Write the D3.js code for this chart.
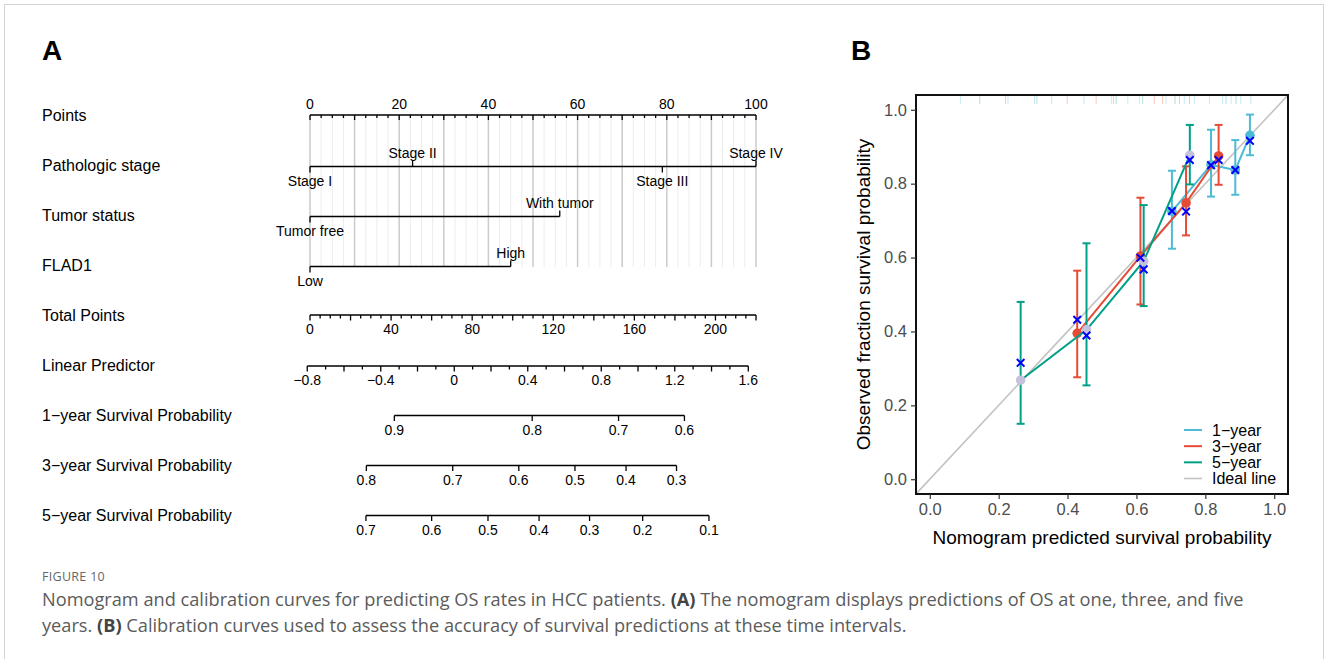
<!DOCTYPE html>
<html>
<head>
<meta charset="utf-8">
<script src="https://cdn.jsdelivr.net/npm/d3@7"></script>
<style>
  html, body { margin: 0; padding: 0; background: #fff; }
  svg { display: block; }
</style>
</head>
<body>
<svg id="chart" width="1328" height="659"></svg>
<script>
// ---------------- DATA ----------------
// Nomogram (panel A)
const variableNames = ["Points", "Pathologic stage", "Tumor status", "FLAD1", "Total Points",
  "Linear Predictor", "1\u2212year Survival Probability", "3\u2212year Survival Probability", "5\u2212year Survival Probability"];
const stageLevels = ["Stage I", "Stage II", "Stage III", "Stage IV"];
const stagePoints = [0, 23, 79, 100];
const tumorLevels = ["Tumor free", "With tumor"];
const tumorPoints = [0, 56];
const fladLevels = ["Low", "High"];
const fladPoints = [0, 45];
const pointsTickLabels = [0, 20, 40, 60, 80, 100];
const totalPointsTickLabels = [0, 40, 80, 120, 160, 200];
const totalPointsMax = 220;
const lpTickLabels = [-0.8, -0.4, 0, 0.4, 0.8, 1.2, 1.6];
const lpAtTotalZero = -0.785, lpAtTotalMax = 1.642;
const surv1Ticks = [0.9, 0.8, 0.7, 0.6];
const surv1TotalPts = [41.6, 109.6, 152.2, 184.7];
const surv3Ticks = [0.8, 0.7, 0.6, 0.5, 0.4, 0.3];
const surv3TotalPts = [27.8, 70.4, 103.0, 130.7, 155.9, 180.8];
const surv5Ticks = [0.7, 0.6, 0.5, 0.4, 0.3, 0.2, 0.1];
const surv5TotalPts = [27.6, 60.0, 87.8, 113.0, 137.9, 164.1, 196.8];

// Calibration (panel B)
const seriesNames = ["1\u2212year", "3\u2212year", "5\u2212year"];
const pred1 = [0.703, 0.8165, 0.887, 0.9295];
const obs1  = [0.725, 0.851, 0.837, 0.931];
const lo1   = [0.624, 0.765, 0.770, 0.877];
const hi1   = [0.835, 0.946, 0.918, 0.987];
const corr1 = [0.726, 0.850, 0.837, 0.916];
const pred3 = [0.428, 0.6116, 0.744, 0.8386];
const obs3  = [0.395, 0.604, 0.748, 0.875];
const lo3   = [0.276, 0.473, 0.660, 0.797];
const hi3   = [0.5645, 0.762, 0.847, 0.959];
const corr3 = [0.4317, 0.5997, 0.7245, 0.864];
const pred5 = [0.2638, 0.455, 0.621, 0.755];
const obs5  = [0.268, 0.4045, 0.590, 0.877];
const lo5   = [0.150, 0.254, 0.4686, 0.798];
const hi5   = [0.480, 0.6386, 0.742, 0.959];
const corr5 = [0.315, 0.389, 0.568, 0.864];
const rug1 = [0.089, 0.227, 0.304, 0.354, 0.448, 0.527, 0.575, 0.609, 0.686, 0.739, 0.768, 0.812, 0.85, 0.875, 0.903, 0.932];
const rug3 = [0.22, 0.399, 0.483, 0.533, 0.652, 0.676, 0.725];
const rug5 = [0.145, 0.311, 0.541, 0.618, 0.712, 0.754, 0.86, 0.889];
const calTicks = [0, 0.2, 0.4, 0.6, 0.8, 1.0];

// ---------------- DRAW ----------------
const svg = d3.select("#chart");
const FONT = "'Liberation Sans', Arial, Helvetica, sans-serif";

// card border
svg.append("rect").attr("x", 4.5).attr("y", 4.5).attr("width", 1319).attr("height", 670)
  .attr("fill", "none").attr("stroke", "#d4d4d4").attr("stroke-width", 1);

// panel letters
svg.append("text").attr("x", 42).attr("y", 60).text("A")
  .attr("font-family", FONT).attr("font-weight", "bold").attr("font-size", 28).attr("fill", "#000");
svg.append("text").attr("x", 851).attr("y", 60).text("B")
  .attr("font-family", FONT).attr("font-weight", "bold").attr("font-size", 28).attr("fill", "#000");

// ---- Panel A: nomogram ----
const gA = svg.append("g");
const rowY = d3.scalePoint().domain(variableNames).range([115, 515]);
const ptsX = d3.scaleLinear().domain([0, 100]).range([310, 756]);
const totX = d3.scaleLinear().domain([0, totalPointsMax]).range([310, 756]);
const lpX = d3.scaleLinear().domain([lpAtTotalZero, lpAtTotalMax]).range(totX.range());

// left labels
gA.selectAll("text.varname").data(variableNames).join("text")
  .attr("class", "varname")
  .attr("x", 42).attr("y", d => rowY(d) + 6)
  .attr("font-family", FONT).attr("font-size", 16).attr("fill", "#000")
  .text(d => d);

// grid lines
const gridTop = rowY("Points"), gridBottom = rowY("FLAD1") + 2;
const minorGrid = d3.range(0, 100.01, 2.5).filter(v => v % 10 !== 0);
const majorGrid = d3.range(0, 100.01, 10);
gA.selectAll("line.gminor").data(minorGrid).join("line")
  .attr("x1", d => ptsX(d)).attr("x2", d => ptsX(d))
  .attr("y1", gridTop).attr("y2", gridBottom)
  .attr("stroke", "#ececec").attr("stroke-width", 1);
gA.selectAll("line.gmajor").data(majorGrid).join("line")
  .attr("x1", d => ptsX(d)).attr("x2", d => ptsX(d))
  .attr("y1", gridTop).attr("y2", gridBottom)
  .attr("stroke", "#cbcbcb").attr("stroke-width", 1.5);

function hAxisLine(g, x1, x2, y) {
  g.append("line").attr("x1", x1).attr("x2", x2).attr("y1", y).attr("y2", y)
    .attr("stroke", "#000").attr("stroke-width", 1.5);
}
function ticks(g, xs, y, len) {
  g.selectAll(null).data(xs).join("line")
    .attr("x1", d => d).attr("x2", d => d).attr("y1", y).attr("y2", y + len)
    .attr("stroke", "#000").attr("stroke-width", 1.3);
}
function labels(g, items, y) {
  g.selectAll(null).data(items).join("text")
    .attr("x", d => d.x).attr("y", y).attr("text-anchor", "middle")
    .attr("font-family", FONT).attr("font-size", 14).attr("fill", "#000")
    .text(d => d.t);
}
const fmtNum = v => (v < 0 ? "\u2212" : "") + Math.abs(v).toString();

// Points axis
{
  const y = rowY("Points");
  hAxisLine(gA, ptsX(0), ptsX(100), y);
  const minor = d3.range(0, 100.01, 2.5).filter(v => v % 10 !== 0);
  ticks(gA, minor.map(ptsX), y, 3);
  ticks(gA, d3.range(0, 100.01, 10).map(ptsX), y, 5);
  labels(gA, pointsTickLabels.map(v => ({x: ptsX(v), t: String(v)})), y - 6);
}

// factor rows
function factorRow(name, levels, pts) {
  const y = rowY(name) + 1.5;
  hAxisLine(gA, ptsX(d3.min(pts)), ptsX(d3.max(pts)), y);
  levels.forEach((lv, i) => {
    const up = i % 2 === 1;
    const x = ptsX(pts[i]);
    gA.append("line").attr("x1", x).attr("x2", x).attr("y1", y).attr("y2", up ? y - 6 : y + 6)
      .attr("stroke", "#000").attr("stroke-width", 1.3);
    gA.append("text").attr("x", x).attr("y", up ? y - 9 : y + 19)
      .attr("text-anchor", "middle").attr("font-family", FONT).attr("font-size", 14)
      .attr("fill", "#000").text(lv);
  });
}
factorRow("Pathologic stage", stageLevels, stagePoints);
factorRow("Tumor status", tumorLevels, tumorPoints);
factorRow("FLAD1", fladLevels, fladPoints);

// Total points axis
{
  const y = rowY("Total Points");
  hAxisLine(gA, totX(0), totX(totalPointsMax), y);
  ticks(gA, d3.range(0, totalPointsMax + 0.01, 5).filter(v => v % 20 !== 0).map(totX), y, 3.5);
  ticks(gA, d3.range(0, totalPointsMax + 0.01, 20).map(totX), y, 5.5);
  labels(gA, totalPointsTickLabels.map(v => ({x: totX(v), t: String(v)})), y + 19);
}

// Linear predictor axis
{
  const y = rowY("Linear Predictor") + 1;
  const lpMin = d3.min(lpTickLabels), lpMax = d3.max(lpTickLabels);
  hAxisLine(gA, lpX(lpMin), lpX(lpMax), y);
  const all = d3.range(0, Math.round((lpMax - lpMin) * 10) + 1).map(i => +(lpMin + i * 0.1).toFixed(2));
  ticks(gA, all.filter((v, i) => i % 2 === 1).map(lpX), y, 3.5);
  ticks(gA, all.filter((v, i) => i % 2 === 0).map(lpX), y, 5.5);
  labels(gA, lpTickLabels.map(v => ({x: lpX(v), t: fmtNum(v)})), y + 19);
}

// survival axes
function survRow(name, vals, tps) {
  const y = rowY(name) + 0.5;
  const xs = tps.map(totX);
  hAxisLine(gA, d3.min(xs), d3.max(xs), y);
  ticks(gA, xs, y, 5.5);
  labels(gA, vals.map((v, i) => ({x: xs[i], t: v.toFixed(1)})), y + 19);
}
survRow(variableNames[6], surv1Ticks, surv1TotalPts);
survRow(variableNames[7], surv3Ticks, surv3TotalPts);
survRow(variableNames[8], surv5Ticks, surv5TotalPts);

// ---- Panel B: calibration ----
const gB = svg.append("g");
const box = {x0: 916, x1: 1288, y0: 95, y1: 494};
const cx = d3.scaleLinear().domain([-0.04, 1.04]).range([box.x0, box.x1]);
const cy = d3.scaleLinear().domain([-0.04, 1.04]).range([box.y1, box.y0]);
const colors = ["#4DBBD5", "#E64B35", "#00A087"];
const pointColors = ["#4DBBD5", "#E64B35", "#C4C2DD"];
const rugColors = ["#4DBBD5", "#E64B35", "#00A087"];

// clip
svg.append("defs").append("clipPath").attr("id", "boxclip")
  .append("rect").attr("x", box.x0).attr("y", box.y0).attr("width", box.x1 - box.x0).attr("height", box.y1 - box.y0);
const inner = gB.append("g").attr("clip-path", "url(#boxclip)");

// rug
[rug1, rug3, rug5].forEach((r, k) => {
  inner.selectAll(null).data(r).join("line")
    .attr("x1", d => cx(d)).attr("x2", d => cx(d))
    .attr("y1", box.y0 + 1).attr("y2", box.y0 + 9)
    .attr("stroke", rugColors[k]).attr("stroke-opacity", 0.3).attr("stroke-width", 1);
});

// ideal line
inner.append("line")
  .attr("x1", cx(-0.04)).attr("y1", cy(-0.04)).attr("x2", cx(1.04)).attr("y2", cy(1.04))
  .attr("stroke", "#c2c2c2").attr("stroke-width", 1.6);

const series = [
  {pred: pred1, obs: obs1, lo: lo1, hi: hi1, corr: corr1},
  {pred: pred3, obs: obs3, lo: lo3, hi: hi3, corr: corr3},
  {pred: pred5, obs: obs5, lo: lo5, hi: hi5, corr: corr5}
];
const line = d3.line().x(d => cx(d[0])).y(d => cy(d[1]));
series.forEach((s, k) => {
  const pts = s.pred.map((p, i) => [p, s.obs[i]]);
  inner.append("path").attr("d", line(pts)).attr("fill", "none")
    .attr("stroke", colors[k]).attr("stroke-width", 2);
  s.pred.forEach((p, i) => {
    const x = cx(p);
    inner.append("line").attr("x1", x).attr("x2", x).attr("y1", cy(s.lo[i])).attr("y2", cy(s.hi[i]))
      .attr("stroke", colors[k]).attr("stroke-width", 2);
    [s.lo[i], s.hi[i]].forEach(v => {
      inner.append("line").attr("x1", x - 4).attr("x2", x + 4).attr("y1", cy(v)).attr("y2", cy(v))
        .attr("stroke", colors[k]).attr("stroke-width", 2);
    });
  });
  inner.selectAll(null).data(pts).join("circle")
    .attr("cx", d => cx(d[0])).attr("cy", d => cy(d[1])).attr("r", 4.8)
    .attr("fill", pointColors[k]);
});
// bias-corrected X marks
series.forEach(s => {
  s.pred.forEach((p, i) => {
    const x = cx(p), y = cy(s.corr[i]), h = 3.8;
    inner.append("path").attr("d", `M${x - h},${y - h}L${x + h},${y + h}M${x - h},${y + h}L${x + h},${y - h}`)
      .attr("stroke", "#0000FF").attr("stroke-width", 2);
  });
});

// box
gB.append("rect").attr("x", box.x0).attr("y", box.y0).attr("width", box.x1 - box.x0).attr("height", box.y1 - box.y0)
  .attr("fill", "none").attr("stroke", "#111").attr("stroke-width", 2);

// axes
const xAxis = d3.axisBottom(cx).tickValues(calTicks).tickFormat(d3.format(".1f")).tickSize(5).tickPadding(4);
const gx = gB.append("g").attr("transform", `translate(0,${box.y1})`).call(xAxis);
gx.select(".domain").remove();
gx.selectAll("line").attr("stroke", "#333").attr("stroke-width", 1.2);
gx.selectAll("text").attr("font-family", FONT).attr("font-size", 16.5).attr("fill", "#4d4d4d");

const yAxis = d3.axisLeft(cy).tickValues(calTicks).tickFormat(d3.format(".1f")).tickSize(5).tickPadding(4);
const gy = gB.append("g").attr("transform", `translate(${box.x0},0)`).call(yAxis);
gy.select(".domain").remove();
gy.selectAll("line").attr("stroke", "#333").attr("stroke-width", 1.2);
gy.selectAll("text").attr("font-family", FONT).attr("font-size", 16.5).attr("fill", "#4d4d4d");

// titles
gB.append("text").attr("x", (cx(0) + cx(1)) / 2).attr("y", 544).attr("text-anchor", "middle")
  .attr("font-family", FONT).attr("font-size", 19).attr("fill", "#000")
  .text("Nomogram predicted survival probability");
gB.append("text").attr("transform", `translate(870,${(cy(0) + cy(1)) / 2}) rotate(-90)`)
  .attr("text-anchor", "middle").attr("font-family", FONT).attr("font-size", 19).attr("fill", "#000")
  .text("Observed fraction survival probability");

// legend
const legendItems = seriesNames.concat(["Ideal line"]);
const legendColors = colors.concat(["#c2c2c2"]);
const legY = d3.scalePoint().domain(legendItems).range([430, 478.5]);
legendItems.forEach((name, i) => {
  const y = legY(name);
  gB.append("line").attr("x1", 1184).attr("x2", 1202).attr("y1", y).attr("y2", y)
    .attr("stroke", legendColors[i]).attr("stroke-width", i < 3 ? 2 : 1.6);
  gB.append("text").attr("x", 1212).attr("y", y + 5.5)
    .attr("font-family", FONT).attr("font-size", 16).attr("fill", "#000").text(name);
});

// caption
const CAP = "'Open Sans', 'Noto Sans', sans-serif";
svg.append("text").attr("x", 42).attr("y", 581).attr("font-family", CAP).attr("font-size", 12.5)
  .attr("fill", "#666").attr("letter-spacing", 0.3).text("FIGURE 10");
const cap1 = svg.append("text").attr("x", 42).attr("y", 606).attr("font-family", CAP).attr("font-size", 18.2)
  .attr("fill", "#5b5b5b");
cap1.append("tspan").text("Nomogram and calibration curves for predicting OS rates in HCC patients. ");
cap1.append("tspan").attr("font-weight", "bold").attr("fill", "#444").text("(A)");
cap1.append("tspan").text(" The nomogram displays predictions of OS at one, three, and five");
const cap2 = svg.append("text").attr("x", 42).attr("y", 632).attr("font-family", CAP).attr("font-size", 18.2)
  .attr("fill", "#5b5b5b");
cap2.append("tspan").text("years. ");
cap2.append("tspan").attr("font-weight", "bold").attr("fill", "#444").text("(B)");
cap2.append("tspan").text(" Calibration curves used to assess the accuracy of survival predictions at these time intervals.");
</script>
</body>
</html>
